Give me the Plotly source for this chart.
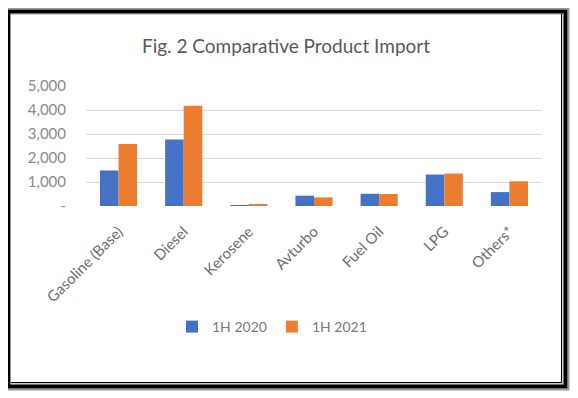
import plotly.graph_objects as go

categories = ["Gasoline (Base)", "Diesel", "Kerosene", "Avturbo", "Fuel Oil", "LPG", "Others*"]
values_1h2020 = [1480, 2770, 15, 430, 510, 1310, 580]
values_1h2021 = [2580, 4180, 58, 360, 500, 1350, 1030]
y_tickvals = [0, 1000, 2000, 3000, 4000, 5000]
y_ticktext = ["-", "1,000", "2,000", "3,000", "4,000", "5,000"]

# the page places the figure 8px in from the top-left corner
OFF = 8
W, H = 578 - OFF, 398 - OFF
L, R, T, B = 78, 36, 78, 192
pw, ph = W - L - R, H - T - B

def px(x):  # page pixel -> paper x
    return (x - OFF - L) / pw

def py(y):  # page pixel -> paper y
    return (H - B - (y - OFF)) / ph

FONT = "Lato, Carlito, 'Open Sans', sans-serif"

fig = go.Figure()
fig.add_bar(x=categories, y=values_1h2020, name="1H 2020", marker=dict(color="#4472C4", line_width=0))
fig.add_bar(x=categories, y=values_1h2021, name="1H 2021", marker=dict(color="#ED7D31", line_width=0))

shapes = [
    dict(type="rect", xref="paper", yref="paper", x0=px(7), x1=px(566), y0=py(11), y1=py(387),
         line=dict(color="#9a9a9a", width=7), fillcolor="rgba(0,0,0,0)", layer="above"),
    dict(type="rect", xref="paper", yref="paper", x0=px(8.5), x1=px(565.5), y0=py(11.5), y1=py(386.5),
         line=dict(color="#000000", width=3.5), fillcolor="rgba(0,0,0,0)", layer="above"),
    dict(type="line", xref="paper", yref="paper", x0=px(561.5), x1=px(561.5), y0=py(14), y1=py(382.5),
         line=dict(color="#000000", width=1), layer="above"),
    dict(type="line", xref="paper", yref="paper", x0=px(11), x1=px(561.5), y0=py(382.5), y1=py(382.5),
         line=dict(color="#000000", width=1), layer="above"),
]

fig.update_layout(
    width=W, height=H,
    margin=dict(l=L, r=R, t=T, b=B, autoexpand=False),
    paper_bgcolor="white", plot_bgcolor="white",
    barmode="group", bargap=0.43, bargroupgap=0,
    title=dict(text="Fig. 2 Comparative Product Import", x=px(286), xref="paper", xanchor="center",
               y=1 - (46 - OFF) / H, yanchor="middle",
               font=dict(family=FONT, size=19, color="#595959")),
    font=dict(family=FONT),
    showlegend=True,
    legend=dict(orientation="h", x=px(272), xref="paper", xanchor="center", y=py(327), yanchor="middle",
                font=dict(family=FONT, size=14, color="#7a7a7a"), itemwidth=30, traceorder="normal",
                bgcolor="rgba(0,0,0,0)"),
    shapes=shapes,
)
fig.update_yaxes(range=[0, 5000], tickvals=y_tickvals, ticktext=y_ticktext,
                 showgrid=True, gridcolor="#d9d9d9", gridwidth=1, zeroline=False, showline=False,
                 tickfont=dict(family=FONT, size=15, color="#8a8a8a"), ticks="", ticklabelstandoff=19)
fig.update_xaxes(showgrid=False, showline=False, zeroline=False, tickangle=-45, ticks="",
                 tickfont=dict(family=FONT, size=15, color="#6e6e6e"), ticklabelstandoff=13)

fig.write_html("out.html")
